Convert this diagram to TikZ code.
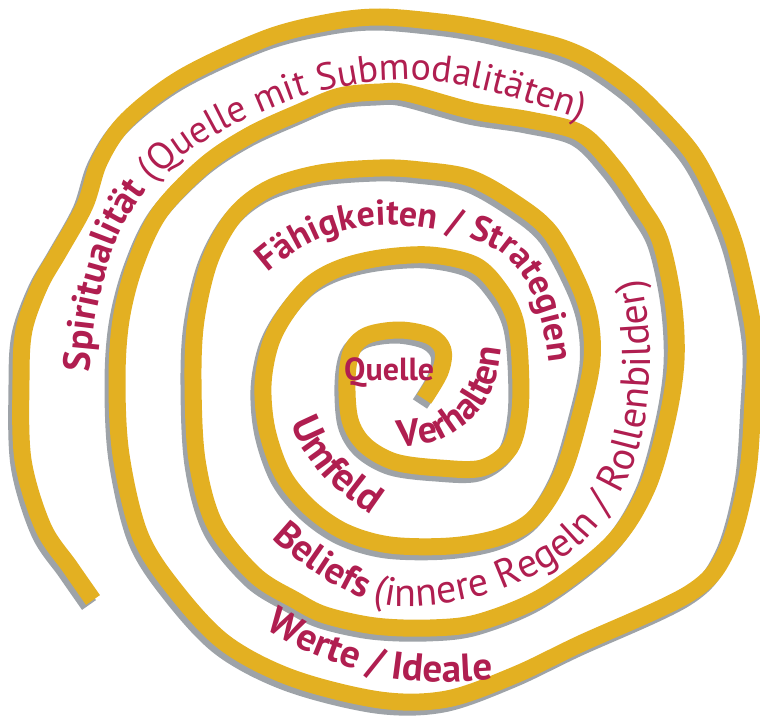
\documentclass[tikz,border=0pt]{standalone}
\usepackage{fontspec}
\setmainfont{PT Sans}
\usetikzlibrary{decorations.text}

\definecolor{spiralyellow}{RGB}{227,176,34}
\definecolor{spiralgrey}{RGB}{158,163,168}
\definecolor{labelred}{RGB}{176,30,80}

\newcommand{\spiralfont}[1][37]{\fontsize{#1}{#1}\selectfont}
\newcommand{\SpiralBand}[1]{%
	\draw [band, #1] plot [smooth, tension = 0.55] coordinates {
		(424,-399) (440,-372) (443,-350) (430,-336) (400,-330) (368,-335) (352,-350)
		(347,-380) (350,-420) (365,-445) (395,-462) (440,-468) (482,-468) (510,-448)
		(520,-410) (520,-360) (515,-320) (500,-290) (475,-265) (430,-255) (380,-258)
		(340,-268) (310,-285) (285,-315) (270,-345) (263,-385) (267,-430) (283,-475)
		(310,-508) (345,-532) (390,-545) (450,-546) (500,-537) (535,-517) (563,-472)
		(583,-405) (592,-360) (590,-320) (578,-283) (550,-232) (515,-203) (470,-178)
		(420,-170) (380,-168) (320,-173) (270,-188) (235,-215) (210,-260) (196,-320)
		(193,-380) (197,-460) (215,-525) (255,-575) (295,-600) (325,-615) (375,-626)
		(430,-628) (480,-622) (545,-595) (612,-543) (647,-488) (667,-420) (676,-360)
		(673,-300) (660,-240) (640,-205) (613,-166) (580,-133) (530,-120) (473,-111)
		(407,-93) (380,-92) (340,-96) (300,-112) (250,-135) (205,-165) (160,-212)
		(135,-265) (121,-320) (117,-380) (121,-455) (140,-535) (175,-590) (225,-643)
		(292,-678) (380,-700) (447,-699) (515,-675) (580,-644) (690,-593) (727,-550)
		(747,-477) (753,-400) (755,-350) (750,-310) (735,-245) (715,-195) (690,-150)
		(647,-103) (620,-80) (590,-60) (560,-47) (520,-37) (480,-28) (440,-22)
		(380,-17) (330,-22) (267,-38) (183,-77) (127,-120) (100,-160) (85,-205)
		(60,-250) (40,-285) (24,-330) (21,-380) (23,-460) (43,-527) (70,-567) (93,-600)
	};%
}

\tikzset{
	band/.style = {line width = 17pt, line join = round, draw = spiralyellow},
	curvedlabel/.style = {decorate, decoration = {text along path, text color = labelred, text = {#1}}},
}

\begin{document}
\begin{tikzpicture}[x = 1pt, y = 1pt]
	\useasboundingbox (0,0) rectangle (760,-717);
	
	% shadow first, then the band
	\SpiralBand{draw = spiralgrey, shift = {(-4,-5)}}
	\SpiralBand{}
	
	\node [anchor = base west, inner sep = 0, text = labelred, font = \fontsize{32}{34}\selectfont\bfseries] (quelle) at (344,-380) {Quelle};
	
	\path [curvedlabel = {|\spiralfont[38]\bfseries|Verhalten}]
		plot [smooth] coordinates {(398,-447) (440,-440) (475,-416) (495,-382) (502,-343) (503,-320)};
	\path [curvedlabel = {|\spiralfont[40]\bfseries|Umfeld}]
		plot [smooth] coordinates {(291,-423) (305,-452) (325,-478) (348,-498) (375,-517) (395,-527)};
	\path [curvedlabel = {|\spiralfont[36]\bfseries|Fähigkeiten / Strategien}]
		plot [smooth] coordinates {(268,-273) (298,-250) (335,-233) (380,-225) (425,-228) (465,-237)
			(500,-252) (522,-275) (537,-305) (546,-340) (551,-378) (553,-410)};
	\path [curvedlabel = {|\spiralfont[38]\bfseries|Beliefs |\spiralfont[40]|(innere Regeln / Rollenbilder)}]
		plot [smooth] coordinates {(272,-538) (300,-562) (330,-582) (362,-598) (397,-606) (440,-604)
			(490,-593) (540,-572) (580,-545) (610,-510) (632,-470) (645,-420) (650,-370)
			(648,-320) (640,-270) (630,-230)};
	\path [curvedlabel = {|\spiralfont[39]\bfseries|Werte / Ideale}]
		plot [smooth] coordinates {(265,-628) (300,-648) (340,-664) (385,-677) (435,-682) (490,-680) (540,-676)};
	\path [curvedlabel = {|\spiralfont[38]\bfseries|Spiritualität |\spiralfont[38]|(Quelle mit Submodalitäten)}]
		plot [smooth] coordinates {(90,-372) (95,-320) (105,-275) (120,-232) (145,-192) (177,-160)
			(215,-135) (260,-113) (300,-97) (340,-87) (380,-81) (420,-80) (460,-85)
			(500,-94) (540,-106) (600,-126) (640,-140)};
\end{tikzpicture}
\end{document}
